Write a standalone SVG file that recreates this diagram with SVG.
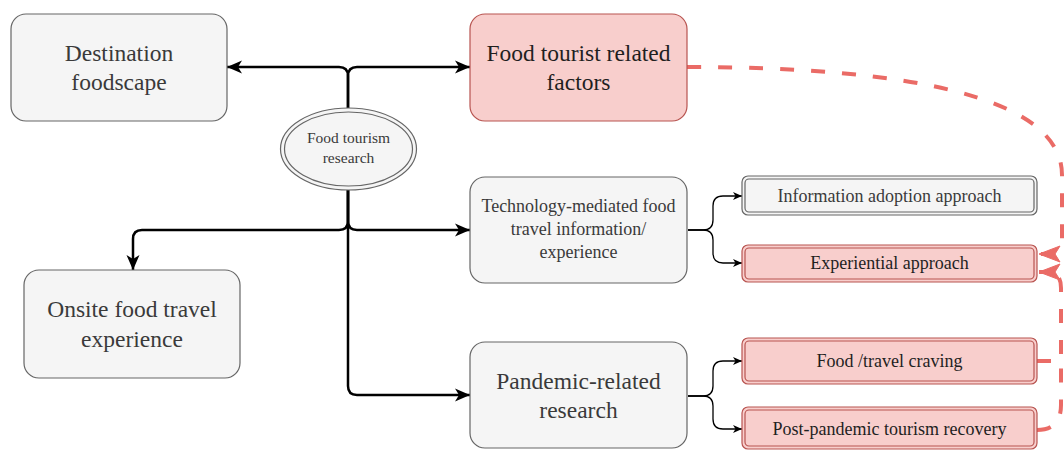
<svg xmlns="http://www.w3.org/2000/svg" width="1064" height="450" viewBox="0 0 1064 450">
  <defs>
    <style>
      .lbl { font-family: "Liberation Serif", "DejaVu Serif", "Times New Roman", serif; text-anchor: middle; }
      .grey { fill: #f5f5f5; stroke: #666666; stroke-width: 1.2; }
      .pink { fill: #f8cecc; stroke: #b85450; stroke-width: 1.2; }
      .inner { fill: none; stroke-width: 1.2; }
      .big { font-size: 23.5px; }
      .mid { font-size: 18px; }
      .small { font-size: 15.5px; }
      .tg { fill: #3a3a3a; }
      .tp { fill: #1f1f1f; }
      .main { fill: none; stroke: #000000; stroke-width: 2.5; stroke-linejoin: round; }
      .thin { fill: none; stroke: #000000; stroke-width: 1.3; }
      .dash { fill: none; stroke: #ea6b66; stroke-width: 4; stroke-dasharray: 14 17; }
    </style>
    <marker id="arrowMain" markerUnits="userSpaceOnUse" markerWidth="16" markerHeight="14" refX="15" refY="7" orient="auto">
      <path d="M0,0.5 L15,7 L0,13.5 L4,7 Z" fill="#000000"/>
    </marker>
    <marker id="arrowThin" markerUnits="userSpaceOnUse" markerWidth="10" markerHeight="10" refX="9" refY="5" orient="auto">
      <path d="M0,1 L9,5 L0,9 L2.5,5 Z" fill="#000000"/>
    </marker>
    <marker id="arrowRed" markerUnits="userSpaceOnUse" markerWidth="22" markerHeight="18" refX="21" refY="9" orient="auto" overflow="visible">
      <path d="M0,1 L21,9 L0,17 L5,9 Z" fill="#ea6b66" stroke="#ea6b66" stroke-width="1"/>
    </marker>
  </defs>

  <!-- connectors -->
  <g id="connectors">
    <path class="main" d="M348 108 L348 76 Q348 67 339 67 L227 67" marker-end="url(#arrowMain)"/>
    <path class="main" d="M348 108 L348 76 Q348 67 357 67 L470 67" marker-end="url(#arrowMain)"/>
    <path class="main" d="M348 190 L348 221 Q348 230 339 230 L142 230 Q133 230 133 239 L133 270" marker-end="url(#arrowMain)"/>
    <path class="main" d="M348 190 L348 221 Q348 230 357 230 L470 230" marker-end="url(#arrowMain)"/>
    <path class="main" d="M348 190 L348 386 Q348 395 357 395 L470 395" marker-end="url(#arrowMain)"/>

    <path class="thin" d="M688 230 L703 230 Q713 230 713 220 L713 206 Q713 196 723 196 L742 196" marker-end="url(#arrowThin)"/>
    <path class="thin" d="M688 230 L703 230 Q713 230 713 240 L713 253 Q713 263 723 263 L742 263" marker-end="url(#arrowThin)"/>
    <path class="thin" d="M688 396 L703 396 Q713 396 713 386 L713 371 Q713 361 723 361 L742 361" marker-end="url(#arrowThin)"/>
    <path class="thin" d="M688 396 L703 396 Q713 396 713 406 L713 419 Q713 429 723 429 L742 429" marker-end="url(#arrowThin)"/>

    <path class="dash" d="M687 67 C900 67 1062 95 1062 175 L1062 238 Q1062 254 1048 254 L1039 254" marker-end="url(#arrowRed)"/>
    <path class="dash" d="M1037 361 L1061 361 L1061 288 Q1061 272 1048 272 L1039 272" marker-end="url(#arrowRed)"/>
    <path class="dash" d="M1037 430 Q1061 430 1061 405 L1061 361"/>
  </g>

  <!-- central topic -->
  <g id="food-tourism-research">
    <ellipse cx="348.5" cy="149" rx="68" ry="41" class="grey"/>
    <ellipse cx="348.5" cy="149" rx="64" ry="37" class="inner" stroke="#666666"/>
    <text class="lbl small tg" x="348.5" y="143">Food tourism</text>
    <text class="lbl small tg" x="348.5" y="163">research</text>
  </g>

  <g id="destination-foodscape">
    <rect x="11" y="14" width="216" height="107" rx="15" class="grey"/>
    <text class="lbl big tg" x="119" y="61">Destination</text>
    <text class="lbl big tg" x="119" y="90">foodscape</text>
  </g>

  <g id="food-tourist-factors">
    <rect x="470" y="14" width="217" height="107" rx="15" class="pink"/>
    <text class="lbl big tp" x="578.5" y="61">Food tourist related</text>
    <text class="lbl big tp" x="578.5" y="90">factors</text>
  </g>

  <g id="onsite-experience">
    <rect x="24" y="270" width="216" height="108" rx="15" class="grey"/>
    <text class="lbl big tg" x="132" y="317">Onsite food travel</text>
    <text class="lbl big tg" x="132" y="347">experience</text>
  </g>

  <g id="technology-mediated">
    <rect x="470" y="177" width="217" height="106" rx="15" class="grey"/>
    <text class="lbl mid tg" x="578.5" y="212">Technology-mediated food</text>
    <text class="lbl mid tg" x="578.5" y="235">travel information/</text>
    <text class="lbl mid tg" x="578.5" y="258">experience</text>
  </g>

  <g id="pandemic-research">
    <rect x="470" y="342" width="217" height="106" rx="15" class="grey"/>
    <text class="lbl big tg" x="578.5" y="389">Pandemic-related</text>
    <text class="lbl big tg" x="578.5" y="418">research</text>
  </g>

  <g id="information-adoption">
    <rect x="742" y="176" width="295" height="39" rx="6" class="grey"/>
    <rect x="745" y="179" width="289" height="33" rx="4" class="inner" stroke="#666666"/>
    <text class="lbl mid tg" x="889.5" y="202">Information adoption approach</text>
  </g>

  <g id="experiential-approach">
    <rect x="742" y="245" width="295" height="37" rx="6" class="pink"/>
    <rect x="745" y="248" width="289" height="31" rx="4" class="inner" stroke="#b85450"/>
    <text class="lbl mid tp" x="889.5" y="269">Experiential approach</text>
  </g>

  <g id="food-travel-craving">
    <rect x="742" y="338" width="295" height="46" rx="6" class="pink"/>
    <rect x="745" y="341" width="289" height="40" rx="4" class="inner" stroke="#b85450"/>
    <text class="lbl mid tp" x="889.5" y="367">Food /travel craving</text>
  </g>

  <g id="post-pandemic-recovery">
    <rect x="742" y="407" width="295" height="42" rx="6" class="pink"/>
    <rect x="745" y="410" width="289" height="36" rx="4" class="inner" stroke="#b85450"/>
    <text class="lbl mid tp" x="889.5" y="435">Post-pandemic tourism recovery</text>
  </g>
</svg>
